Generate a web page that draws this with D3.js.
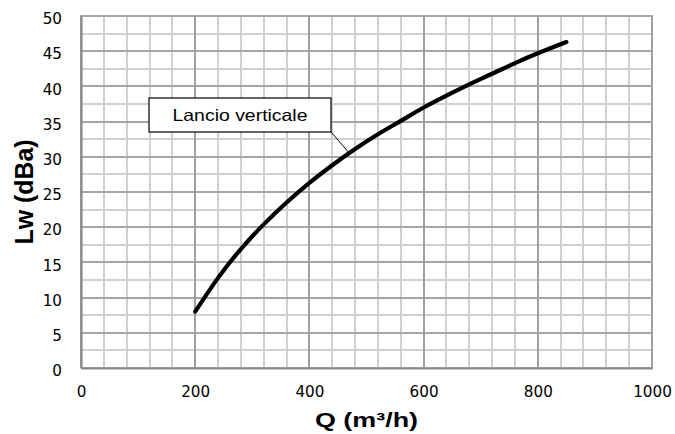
<!DOCTYPE html>
<html>
<head>
<meta charset="utf-8">
<script src="https://cdn.jsdelivr.net/npm/d3@7"></script>
<style>
  html, body { margin: 0; padding: 0; background: #fff; }
  svg { display: block; }
</style>
</head>
<body>
<script>
// ---- data ----
const flowQ = [200, 240, 280, 320, 360, 400, 440, 480, 520, 560, 600, 640, 680, 720, 760, 800, 850];
const levelLw = [8.0, 12.8, 16.9, 20.4, 23.5, 26.3, 28.8, 31.1, 33.2, 35.1, 37.0, 38.7, 40.3, 41.8, 43.3, 44.7, 46.3];
const seriesName = "Lancio verticale";
const xTicks = [0, 200, 400, 600, 800, 1000];
const yTicks = [0, 5, 10, 15, 20, 25, 30, 35, 40, 45, 50];
const xTitle = "Q (m³/h)";
const yTitle = "Lw (dBa)";
const labelAtQ = 470;

// ---- layout ----
const W = 675, H = 434;
const pL = 81, pR = 652, pT = 16, pB = 368;

const svg = d3.select("body").append("svg").attr("width", W).attr("height", H);

const x = d3.scaleLinear().domain([0, 1000]).range([pL, pR]);
const y = d3.scaleLinear().domain([0, 50]).range([pB, pT]);

const minorX = d3.range(0, 1000.1, 40).filter(d => Math.round(d) % 200 !== 0);
const minorY = d3.range(0, 50.1, 2.5).filter(d => d % 5 !== 0);
const R = v => Math.round(v);

function vLines(vals, color) {
  svg.append("g").selectAll("line").data(vals).join("line")
    .attr("x1", d => R(x(d))).attr("x2", d => R(x(d)))
    .attr("y1", pT - 1).attr("y2", pB)
    .attr("stroke", color).attr("stroke-width", 2);
}
function hLines(vals, color) {
  svg.append("g").selectAll("line").data(vals).join("line")
    .attr("y1", d => R(y(d))).attr("y2", d => R(y(d)))
    .attr("x1", pL).attr("x2", pR + 1)
    .attr("stroke", color).attr("stroke-width", 2);
}
hLines(minorY, "#cfcfcf");
vLines(minorX, "#cfcfcf");
hLines(yTicks, "#a6a6a6");
vLines(xTicks, "#a0a0a0");

// axes (labels via d3 axes)
const xAxis = svg.append("g").attr("transform", `translate(0,${pB})`)
  .call(d3.axisBottom(x).tickValues(xTicks).tickSize(0).tickPadding(18).tickFormat(d3.format("d")));
xAxis.select(".domain").attr("stroke", "#8a8a8a").attr("stroke-width", 2.2);
xAxis.selectAll("text").attr("font-family", "DejaVu Sans, Verdana, sans-serif").attr("font-size", 15.2).attr("fill", "#000");

const yAxis = svg.append("g").attr("transform", `translate(${pL},0)`)
  .call(d3.axisLeft(y).tickValues(yTicks).tickSize(0).tickPadding(19).tickFormat(d3.format("d")));
yAxis.select(".domain").attr("stroke", "#8a8a8a").attr("stroke-width", 2.2);
yAxis.selectAll("text").attr("font-family", "DejaVu Sans, Verdana, sans-serif").attr("font-size", 15.2).attr("fill", "#000").attr("dy", "0.5em");

// curve
const line = d3.line().x((d, i) => x(flowQ[i])).y(d => y(d)).curve(d3.curveNatural);
svg.append("path").datum(levelLw)
  .attr("d", line)
  .attr("fill", "none").attr("stroke", "#000").attr("stroke-width", 4.2)
  .attr("stroke-linecap", "round").attr("stroke-linejoin", "round");

// annotation
const interp = d3.scaleLinear().domain(flowQ).range(levelLw);
const ax = x(labelAtQ), ay = y(interp(labelAtQ));
const box = { x0: 149, y0: 98, x1: 331, y1: 132 };
svg.append("line")
  .attr("x1", box.x1).attr("y1", box.y1).attr("x2", ax).attr("y2", ay)
  .attr("stroke", "#000").attr("stroke-width", 1);
svg.append("rect")
  .attr("x", box.x0).attr("y", box.y0)
  .attr("width", box.x1 - box.x0).attr("height", box.y1 - box.y0)
  .attr("fill", "#fff").attr("stroke", "#000").attr("stroke-width", 1.2);
svg.append("text")
  .attr("x", (box.x0 + box.x1) / 2).attr("y", 121)
  .attr("text-anchor", "middle")
  .attr("font-family", "Liberation Sans, Arial, sans-serif").attr("font-size", 16.5)
  .attr("textLength", 135).attr("lengthAdjust", "spacingAndGlyphs")
  .text(seriesName);

// titles
svg.append("text")
  .attr("x", (pL + pR) / 2).attr("y", 427)
  .attr("text-anchor", "middle")
  .attr("font-family", "Liberation Sans, Arial, sans-serif").attr("font-weight", "bold").attr("font-size", 20)
  .attr("textLength", 103).attr("lengthAdjust", "spacingAndGlyphs")
  .text(xTitle);

svg.append("text")
  .attr("transform", `translate(33,${(pT + pB) / 2}) rotate(-90)`)
  .attr("text-anchor", "middle")
  .attr("font-family", "Liberation Sans, Arial, sans-serif").attr("font-weight", "bold").attr("font-size", 25)
  .attr("textLength", 105).attr("lengthAdjust", "spacingAndGlyphs")
  .text(yTitle);
</script>
</body>
</html>
